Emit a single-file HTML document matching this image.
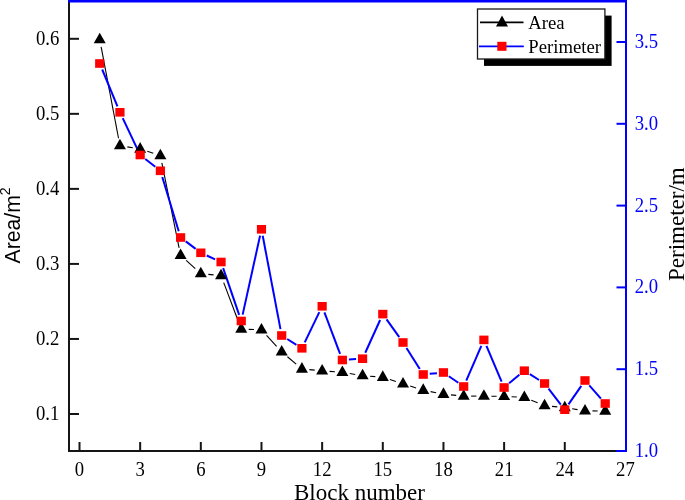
<!DOCTYPE html>
<html><head><meta charset="utf-8"><style>
html,body{margin:0;padding:0;background:#fff;}
body{width:685px;height:500px;overflow:hidden;}
svg{display:block;will-change:transform;}
</style></head><body>
<svg width="685" height="500" viewBox="0 0 685 500">
<rect width="685" height="500" fill="#fff"/>
<g stroke="#000" stroke-width="1.1" fill="none">
<line x1="101.13" y1="46.97" x2="118.53" y2="138.23"/>
<line x1="127.34" y1="146.84" x2="132.76" y2="147.76"/>
<line x1="147.29" y1="151.33" x2="153.25" y2="153.27"/>
<line x1="161.87" y1="162.95" x2="179.11" y2="247.95"/>
<line x1="186.16" y1="260.33" x2="195.26" y2="268.57"/>
<line x1="208.28" y1="274.34" x2="213.58" y2="274.86"/>
<line x1="223.70" y1="282.61" x2="238.60" y2="321.99"/>
<line x1="248.75" y1="329.33" x2="253.99" y2="329.57"/>
<line x1="266.56" y1="335.42" x2="276.62" y2="346.38"/>
<line x1="287.43" y1="356.74" x2="296.19" y2="364.16"/>
<line x1="309.39" y1="369.67" x2="314.67" y2="370.13"/>
<line x1="329.62" y1="371.39" x2="334.88" y2="371.81"/>
<line x1="349.77" y1="373.57" x2="355.17" y2="374.43"/>
<line x1="370.06" y1="376.19" x2="375.32" y2="376.61"/>
<line x1="389.93" y1="379.53" x2="395.89" y2="381.47"/>
<line x1="410.17" y1="386.06" x2="416.09" y2="387.94"/>
<line x1="430.60" y1="391.66" x2="436.10" y2="392.74"/>
<line x1="450.93" y1="394.90" x2="456.21" y2="395.40"/>
<line x1="471.18" y1="396.10" x2="476.40" y2="396.10"/>
<line x1="491.40" y1="396.21" x2="496.62" y2="396.29"/>
<line x1="511.61" y1="396.77" x2="516.85" y2="397.03"/>
<line x1="531.29" y1="400.22" x2="537.61" y2="402.78"/>
<line x1="552.02" y1="406.34" x2="557.32" y2="406.86"/>
<line x1="572.19" y1="408.77" x2="577.59" y2="409.63"/>
<line x1="592.50" y1="410.87" x2="597.72" y2="410.93"/>
</g>
<g stroke="#0000ff" stroke-width="2" fill="none">
<line x1="102.21" y1="69.50" x2="117.45" y2="106.30"/>
<line x1="122.72" y1="118.17" x2="137.38" y2="149.13"/>
<line x1="145.28" y1="159.00" x2="155.26" y2="166.80"/>
<line x1="162.27" y1="177.02" x2="178.71" y2="231.28"/>
<line x1="185.78" y1="241.42" x2="195.64" y2="248.88"/>
<line x1="206.74" y1="255.49" x2="215.12" y2="259.31"/>
<line x1="223.15" y1="268.15" x2="239.15" y2="314.85"/>
<line x1="242.66" y1="314.65" x2="260.08" y2="235.65"/>
<line x1="262.70" y1="235.69" x2="280.48" y2="329.11"/>
<line x1="287.19" y1="338.98" x2="296.43" y2="344.82"/>
<line x1="304.74" y1="342.44" x2="319.32" y2="312.16"/>
<line x1="324.43" y1="312.38" x2="340.07" y2="353.92"/>
<line x1="348.85" y1="359.58" x2="356.09" y2="359.12"/>
<line x1="365.26" y1="352.78" x2="380.12" y2="320.02"/>
<line x1="386.57" y1="319.40" x2="399.25" y2="337.20"/>
<line x1="406.49" y1="347.99" x2="419.77" y2="369.01"/>
<line x1="429.71" y1="373.86" x2="436.99" y2="373.14"/>
<line x1="448.80" y1="376.20" x2="458.34" y2="382.80"/>
<line x1="466.27" y1="380.54" x2="481.31" y2="345.86"/>
<line x1="486.44" y1="345.88" x2="501.58" y2="381.52"/>
<line x1="509.12" y1="383.35" x2="519.34" y2="374.85"/>
<line x1="529.83" y1="374.18" x2="539.07" y2="380.02"/>
<line x1="548.53" y1="388.65" x2="560.81" y2="404.55"/>
<line x1="568.48" y1="404.36" x2="581.30" y2="385.84"/>
<line x1="589.29" y1="385.38" x2="600.93" y2="398.62"/>
</g>
<g fill="#000">
<path d="M99.72 32.70L105.72 43.30L93.72 43.30Z"/>
<path d="M119.94 138.70L125.94 149.30L113.94 149.30Z"/>
<path d="M140.16 142.10L146.16 152.70L134.16 152.70Z"/>
<path d="M160.38 148.70L166.38 159.30L154.38 159.30Z"/>
<path d="M180.60 248.40L186.60 259.00L174.60 259.00Z"/>
<path d="M200.82 266.70L206.82 277.30L194.82 277.30Z"/>
<path d="M221.04 268.70L227.04 279.30L215.04 279.30Z"/>
<path d="M241.26 322.10L247.26 332.70L235.26 332.70Z"/>
<path d="M261.48 323.00L267.48 333.60L255.48 333.60Z"/>
<path d="M281.70 345.00L287.70 355.60L275.70 355.60Z"/>
<path d="M301.92 362.10L307.92 372.70L295.92 372.70Z"/>
<path d="M322.14 363.90L328.14 374.50L316.14 374.50Z"/>
<path d="M342.36 365.50L348.36 376.10L336.36 376.10Z"/>
<path d="M362.58 368.70L368.58 379.30L356.58 379.30Z"/>
<path d="M382.80 370.30L388.80 380.90L376.80 380.90Z"/>
<path d="M403.02 376.90L409.02 387.50L397.02 387.50Z"/>
<path d="M423.24 383.30L429.24 393.90L417.24 393.90Z"/>
<path d="M443.46 387.30L449.46 397.90L437.46 397.90Z"/>
<path d="M463.68 389.20L469.68 399.80L457.68 399.80Z"/>
<path d="M483.90 389.20L489.90 399.80L477.90 399.80Z"/>
<path d="M504.12 389.50L510.12 400.10L498.12 400.10Z"/>
<path d="M524.34 390.50L530.34 401.10L518.34 401.10Z"/>
<path d="M544.56 398.70L550.56 409.30L538.56 409.30Z"/>
<path d="M564.78 400.70L570.78 411.30L558.78 411.30Z"/>
<path d="M585.00 403.90L591.00 414.50L579.00 414.50Z"/>
<path d="M605.22 404.10L611.22 414.70L599.22 414.70Z"/>
</g>
<g fill="#ff0000">
<rect x="95.12" y="59.20" width="9.2" height="8.6"/>
<rect x="115.34" y="108.00" width="9.2" height="8.6"/>
<rect x="135.56" y="150.70" width="9.2" height="8.6"/>
<rect x="155.78" y="166.50" width="9.2" height="8.6"/>
<rect x="176.00" y="233.20" width="9.2" height="8.6"/>
<rect x="196.22" y="248.50" width="9.2" height="8.6"/>
<rect x="216.44" y="257.70" width="9.2" height="8.6"/>
<rect x="236.66" y="316.70" width="9.2" height="8.6"/>
<rect x="256.88" y="225.00" width="9.2" height="8.6"/>
<rect x="277.10" y="331.20" width="9.2" height="8.6"/>
<rect x="297.32" y="344.00" width="9.2" height="8.6"/>
<rect x="317.54" y="302.00" width="9.2" height="8.6"/>
<rect x="337.76" y="355.70" width="9.2" height="8.6"/>
<rect x="357.98" y="354.40" width="9.2" height="8.6"/>
<rect x="378.20" y="309.80" width="9.2" height="8.6"/>
<rect x="398.42" y="338.20" width="9.2" height="8.6"/>
<rect x="418.64" y="370.20" width="9.2" height="8.6"/>
<rect x="438.86" y="368.20" width="9.2" height="8.6"/>
<rect x="459.08" y="382.20" width="9.2" height="8.6"/>
<rect x="479.30" y="335.60" width="9.2" height="8.6"/>
<rect x="499.52" y="383.20" width="9.2" height="8.6"/>
<rect x="519.74" y="366.40" width="9.2" height="8.6"/>
<rect x="539.96" y="379.20" width="9.2" height="8.6"/>
<rect x="560.18" y="405.40" width="9.2" height="8.6"/>
<rect x="580.40" y="376.20" width="9.2" height="8.6"/>
<rect x="600.62" y="399.20" width="9.2" height="8.6"/>
</g>
<!-- axes -->
<g stroke="#151515" stroke-width="2" fill="none">
<line x1="69" y1="0" x2="69" y2="452"/>
<line x1="68" y1="451" x2="617" y2="451"/>
<line x1="69" y1="414.00" x2="79" y2="414.00"/><line x1="69" y1="338.96" x2="79" y2="338.96"/><line x1="69" y1="263.92" x2="79" y2="263.92"/><line x1="69" y1="188.88" x2="79" y2="188.88"/><line x1="69" y1="113.84" x2="79" y2="113.84"/><line x1="69" y1="38.80" x2="79" y2="38.80"/>
<line x1="79.50" y1="442" x2="79.50" y2="451"/><line x1="140.16" y1="442" x2="140.16" y2="451"/><line x1="200.82" y1="442" x2="200.82" y2="451"/><line x1="261.48" y1="442" x2="261.48" y2="451"/><line x1="322.14" y1="442" x2="322.14" y2="451"/><line x1="382.80" y1="442" x2="382.80" y2="451"/><line x1="443.46" y1="442" x2="443.46" y2="451"/><line x1="504.12" y1="442" x2="504.12" y2="451"/><line x1="564.78" y1="442" x2="564.78" y2="451"/>
</g>
<g stroke="#0000ff" stroke-width="2" fill="none">
<line x1="68" y1="1.2" x2="627" y2="1.2" stroke-width="2.4"/>
<line x1="626" y1="0" x2="626" y2="452"/>
<line x1="616" y1="451" x2="626" y2="451"/>
<line x1="616.5" y1="369.20" x2="626" y2="369.20"/><line x1="616.5" y1="287.40" x2="626" y2="287.40"/><line x1="616.5" y1="205.60" x2="626" y2="205.60"/><line x1="616.5" y1="123.80" x2="626" y2="123.80"/><line x1="616.5" y1="42.00" x2="626" y2="42.00"/>
</g>
<g font-family="Liberation Serif, serif" font-size="20" fill="#000" text-anchor="end">
<text transform="translate(59.3,419.90) scale(0.935,1)">0.1</text><text transform="translate(59.3,344.86) scale(0.935,1)">0.2</text><text transform="translate(59.3,269.82) scale(0.935,1)">0.3</text><text transform="translate(59.3,194.78) scale(0.935,1)">0.4</text><text transform="translate(59.3,119.74) scale(0.935,1)">0.5</text><text transform="translate(59.3,44.70) scale(0.935,1)">0.6</text>
</g>
<g font-family="Liberation Serif, serif" font-size="20" fill="#000" text-anchor="middle">
<text transform="translate(79.50,476) scale(0.935,1)">0</text><text transform="translate(140.16,476) scale(0.935,1)">3</text><text transform="translate(200.82,476) scale(0.935,1)">6</text><text transform="translate(261.48,476) scale(0.935,1)">9</text><text transform="translate(322.14,476) scale(0.935,1)">12</text><text transform="translate(382.80,476) scale(0.935,1)">15</text><text transform="translate(443.46,476) scale(0.935,1)">18</text><text transform="translate(504.12,476) scale(0.935,1)">21</text><text transform="translate(564.78,476) scale(0.935,1)">24</text><text transform="translate(625.44,476) scale(0.935,1)">27</text>
</g>
<g font-family="Liberation Serif, serif" font-size="20" fill="#0000ff" text-anchor="start">
<text transform="translate(634.7,457.00) scale(0.935,1)">1.0</text><text transform="translate(634.7,375.20) scale(0.935,1)">1.5</text><text transform="translate(634.7,293.40) scale(0.935,1)">2.0</text><text transform="translate(634.7,211.60) scale(0.935,1)">2.5</text><text transform="translate(634.7,129.80) scale(0.935,1)">3.0</text><text transform="translate(634.7,48.00) scale(0.935,1)">3.5</text>
</g>
<text x="294" y="500" font-family="Liberation Serif, serif" font-size="23" fill="#000">Block number</text>
<text transform="translate(20.3,263.5) rotate(-90)" font-family="Liberation Sans, sans-serif" font-size="21.2" fill="#000">Area/m<tspan font-size="14" dy="-10.4">2</tspan></text>
<text transform="translate(684.3,281) rotate(-90)" font-family="Liberation Serif, serif" font-size="23" fill="#000">Perimeter/m</text>
<!-- legend -->
<rect x="484" y="15.6" width="127.6" height="50.3" fill="#000"/>
<rect x="477.5" y="9" width="127.4" height="50" fill="#fff" stroke="#1a1a1a" stroke-width="1.3"/>
<line x1="480" y1="22.4" x2="523.5" y2="22.4" stroke="#000" stroke-width="1.6"/>
<path d="M502 15.6L508 26.4L496 26.4Z" fill="#000"/>
<line x1="479" y1="46.4" x2="523.8" y2="46.4" stroke="#0000ff" stroke-width="1.6"/>
<rect x="497.3" y="41.8" width="9.2" height="9" fill="#ff0000"/>
<text x="528.3" y="29" font-family="Liberation Serif, serif" font-size="18.7" fill="#000">Area</text>
<text x="528.3" y="52.7" font-family="Liberation Serif, serif" font-size="18.7" fill="#000">Perimeter</text>
</svg>
</body></html>
